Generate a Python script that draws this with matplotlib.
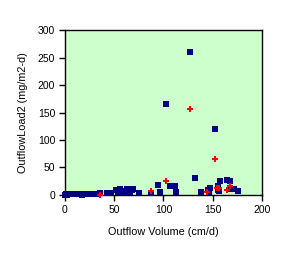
import matplotlib
matplotlib.use("Agg")
import matplotlib.pyplot as plt

plt.rcParams['font.family'] = ['Liberation Sans', 'DejaVu Sans']

blue_x = [0, 1, 2, 3, 4, 5, 6, 8, 10, 12, 17, 18, 20, 22, 24, 26, 28, 30, 32,
          36, 43, 47, 52, 54, 56, 58, 60, 62, 63, 65, 66, 68, 69, 75, 87, 94, 96,
          103, 107, 110, 112, 113, 127, 132, 138, 145, 146, 147, 152, 155, 155,
          156, 157, 164, 168, 168, 172, 176]
blue_y = [0.5, 1, 0.5, 1, 1.5, 1, 1, 2, 1, 1, 0.5, 1.5, 1, 1.5, 1, 1.5, 1, 1.5, 1,
          4, 4, 4, 9, 6, 11, 8, 5, 6, 10, 10, 5, 9, 11, 4, 4, 18, 6,
          165, 17, 17, 17, 6, 260, 31, 5, 9, 5, 12, 120, 16, 9,
          7, 26, 27, 26, 10, 10, 8]

red_x = [36, 87, 103, 127, 144, 152, 154, 156, 164, 168]
red_y = [0.5, 8, 26, 156, 5, 66, 12, 13, 9, 16]

x_ticks = [0, 50, 100, 150, 200]
y_ticks = [0, 50, 100, 150, 200, 250, 300]

fig = plt.figure(figsize=(3.04, 2.58), dpi=100)
ax = fig.add_axes([0.2138, 0.2442, 0.648, 0.6395])
ax.set_facecolor('#CCFFCC')

ax.scatter(blue_x, blue_y, marker='s', s=13, color='#000080', linewidths=0, zorder=3, clip_on=False)
ax.scatter(red_x, red_y, marker='P', s=14, color='#FF0000', linewidths=0, zorder=4, clip_on=False)

ax.set_xlim(0, 200)
ax.set_ylim(0, 300)
ax.set_xticks(x_ticks)
ax.set_yticks(y_ticks)
ax.tick_params(direction='out', length=4, width=1, labelsize=7.5, pad=3)
for s in ax.spines.values():
    s.set_linewidth(1)
    s.set_color('black')

ax.set_xlabel('Outflow Volume (cm/d)', fontsize=7.8, labelpad=9)
ax.set_ylabel('OutflowLoad2 (mg/m2-d)', fontsize=7.8, labelpad=7)

fig.savefig('out.png', dpi=100)
